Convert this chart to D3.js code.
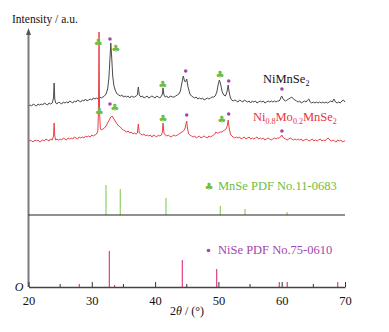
<!DOCTYPE html>
<html>
<head>
<meta charset="utf-8">
<script src="https://cdn.jsdelivr.net/npm/d3@7"></script>
<style>
  body { margin: 0; background: #fff; }
</style>
</head>
<body>
<svg id="chart" width="389" height="332" style="font-family: 'Liberation Serif', 'Times New Roman', 'DejaVu Serif', serif;"></svg>
<script>
// 2theta ticks
const majorTicks = [20, 30, 40, 50, 60, 70];
const minorTicks = [25, 35, 45, 55, 65];

// stacking offsets (a.u.)
const offsetNiMnSe = 181;
const offsetNiMo = 145;
const offsetMnSe = 72;
const offsetNiSe = 0;

// NiMnSe2 pattern [2theta, intensity]
const niMnSe = [
  [20.0,0],[20.25,1],[20.5,0],[20.75,2],[21.0,1],[21.25,0],[21.5,2],[21.75,1],[22.0,2],[22.25,1],
  [22.5,3],[22.75,2],[23.0,1],[23.25,3],[23.5,2],[23.75,3],[23.95,8],[24.05,23],[24.15,7],[24.3,3],
  [24.5,2],[24.75,4],[25.0,3],[25.25,2],[25.5,4],[25.75,3],[26.0,4],[26.25,3],[26.5,5],[26.75,4],
  [27.0,3],[27.25,5],[27.5,4],[27.75,6],[28.0,5],[28.25,4],[28.5,6],[28.75,5],[29.0,7],[29.25,5],
  [29.5,6],[29.75,7],[30.0,6],[30.25,8],[30.5,7],[30.75,8],[31.0,7],[31.25,9],[31.5,8],[31.75,9],
  [32.0,10],[32.25,12],[32.5,17],[32.7,28],[32.85,45],[33.0,63],[33.15,48],[33.3,30],[33.5,20],[33.75,15],
  [34.0,12],[34.25,11],[34.5,10],[34.75,11],[35.0,9],[35.25,10],[35.5,9],[35.75,10],[36.0,8],[36.25,10],
  [36.5,9],[36.75,9],[37.0,10],[37.2,11],[37.35,19],[37.5,11],[37.75,9],[38.0,10],[38.25,8],[38.5,9],
  [38.75,10],[39.0,8],[39.25,9],[39.5,10],[39.75,9],[40.0,8],[40.25,10],[40.5,9],[40.75,8],[41.0,10],
  [41.15,12],[41.25,18],[41.4,11],[41.6,9],[41.85,10],[42.1,8],[42.4,10],[42.75,9],[43.0,9],[43.25,10],
  [43.5,11],[43.75,12],[44.0,15],[44.2,22],[44.45,30],[44.65,25],[44.8,24],[45.0,27],[45.2,19],[45.5,12],
  [45.75,10],[46.0,9],[46.25,8],[46.5,9],[46.75,7],[47.0,8],[47.25,7],[47.5,8],[47.75,6],[48.0,7],
  [48.25,8],[48.5,7],[48.75,8],[49.0,9],[49.25,9],[49.5,10],[49.75,14],[49.95,21],[50.15,26],[50.35,22],
  [50.6,14],[50.85,11],[51.1,10],[51.35,14],[51.55,21],[51.7,14],[51.9,8],[52.1,6],[52.35,5],[52.6,6],
  [52.85,5],[53.1,4],[53.35,6],[53.6,5],[53.85,4],[54.1,6],[54.35,5],[54.6,4],[54.85,5],[55.1,3],
  [55.35,5],[55.6,4],[55.85,5],[56.1,3],[56.35,4],[56.6,5],[56.85,4],[57.1,5],[57.35,3],[57.6,4],
  [57.85,5],[58.1,4],[58.35,5],[58.6,4],[58.85,5],[59.1,4],[59.35,5],[59.6,5],[59.8,7],[59.9,9],
  [60.0,10],[60.15,8],[60.35,6],[60.6,5],[60.85,6],[61.1,7],[61.35,8],[61.6,9],[61.85,7],[62.1,6],
  [62.35,5],[62.6,4],[62.85,5],[63.1,3],[63.35,4],[63.6,5],[63.85,4],[64.1,6],[64.3,7],[64.5,4],
  [64.75,3],[65.0,4],[65.25,3],[65.5,4],[65.75,3],[66.0,4],[66.25,3],[66.5,4],[66.75,3],[67.0,4],
  [67.25,3],[67.5,4],[67.75,5],[68.0,4],[68.25,7],[68.5,4],[68.75,3],[69.0,4],[69.25,3],[69.5,5],
  [69.75,6],[70.0,4]
];

// Ni0.8Mo0.2MnSe2 pattern [2theta, intensity]
const niMoMnSe = [
  [20.0,0],[20.25,2],[20.5,1],[20.75,0],[21.0,2],[21.25,1],[21.5,2],[21.75,0],[22.0,1],[22.25,2],
  [22.5,1],[22.75,3],[23.0,2],[23.25,1],[23.5,3],[23.75,2],[23.95,6],[24.05,19],[24.15,6],[24.3,2],
  [24.5,3],[24.75,2],[25.0,3],[25.25,2],[25.5,4],[25.75,3],[26.0,2],[26.25,4],[26.5,3],[26.75,4],
  [27.0,3],[27.25,5],[27.5,4],[27.75,3],[28.0,5],[28.25,4],[28.5,5],[28.75,4],[29.0,6],[29.25,5],
  [29.5,6],[29.75,5],[30.0,7],[30.25,6],[30.5,7],[30.75,8],[30.95,11],[31.05,30],[31.14,110],[31.23,30],
  [31.35,13],[31.5,12],[31.75,13],[32.0,14],[32.25,16],[32.5,19],[32.75,22],[33.0,25],[33.2,26],[33.4,24],
  [33.6,22],[33.8,20],[34.0,18],[34.25,16],[34.5,15],[34.75,13],[35.0,12],[35.25,11],[35.5,10],[35.75,11],
  [36.0,9],[36.25,10],[36.5,8],[36.75,9],[37.0,8],[37.2,9],[37.35,18],[37.5,9],[37.75,8],[38.0,7],
  [38.25,8],[38.5,6],[38.75,7],[39.0,6],[39.25,7],[39.5,5],[39.75,7],[40.0,6],[40.25,5],[40.5,7],
  [40.75,6],[41.0,7],[41.15,10],[41.25,19],[41.4,9],[41.6,7],[41.85,6],[42.1,7],[42.4,5],[42.75,6],
  [43.0,7],[43.25,6],[43.5,7],[43.75,8],[44.0,9],[44.25,10],[44.5,11],[44.75,14],[44.9,19],[45.0,21],
  [45.1,14],[45.3,8],[45.5,7],[45.75,6],[46.0,5],[46.25,6],[46.5,4],[46.75,5],[47.0,6],[47.25,4],
  [47.5,5],[47.75,6],[48.0,5],[48.25,4],[48.5,6],[48.75,5],[49.0,6],[49.25,7],[49.45,8],[49.6,10],
  [49.8,9],[50.0,9],[50.25,10],[50.5,10],[50.75,11],[51.0,12],[51.2,13],[51.4,16],[51.55,22],[51.7,14],
  [51.9,8],[52.1,6],[52.35,5],[52.6,4],[52.85,5],[53.1,4],[53.35,5],[53.6,3],[53.85,4],[54.1,5],
  [54.35,3],[54.6,4],[54.85,5],[55.1,3],[55.35,4],[55.6,3],[55.85,4],[56.1,5],[56.35,3],[56.6,4],
  [56.85,3],[57.1,4],[57.35,2],[57.6,3],[57.85,4],[58.1,3],[58.35,2],[58.6,3],[58.85,4],[59.1,3],
  [59.35,4],[59.6,4],[59.8,5],[60.0,7],[60.15,5],[60.35,4],[60.6,3],[60.85,2],[61.1,3],[61.35,4],
  [61.6,3],[61.85,2],[62.1,3],[62.35,2],[62.6,3],[62.85,2],[63.1,3],[63.35,1],[63.6,2],[63.85,3],
  [64.1,2],[64.35,1],[64.6,2],[64.85,3],[65.1,1],[65.35,2],[65.6,1],[65.85,2],[66.1,3],[66.35,1],
  [66.6,2],[66.85,1],[67.1,3],[67.35,4],[67.6,2],[67.85,1],[68.1,2],[68.35,1],[68.6,0],[68.85,2],
  [69.1,1],[69.35,2],[69.6,0],[69.85,1],[70.0,1]
];

// reference cards [2theta, relative intensity]
const mnsePdf = [[32.24,30],[34.5,26],[41.72,17],[50.3,9],[54.2,6],[60.84,3]];
const nisePdf = [[28.03,3],[32.77,36],[33.6,2],[44.3,27],[49.73,18],[59.62,5],[60.88,5],[68.85,5]];

// phase markers [2theta, height above pattern offset]
const clubsNiMnSe = [[31.03,64],[33.78,58],[41.2,22],[50.25,32]];
const dotsNiMnSe = [[32.87,67],[44.83,35],[51.63,25],[60.04,17]];
const clubsNiMo = [[31.18,31],[33.62,35],[41.25,24],[50.52,23]];
const dotsNiMo = [[32.87,38],[44.99,27],[51.63,28],[60.04,11]];

const serif = "'Liberation Serif', 'Times New Roman', 'DejaVu Serif', serif";
const green = "#6dbd44";
const purple = "#a346ad";

const svg = d3.select("#chart");

const x = d3.scaleLinear().domain([20, 70]).range([28.5, 345]);
const y = d3.scaleLinear().domain([0, 258]).range([287, 29]);

const line = off => d3.line()
  .x(d => x(d[0]))
  .y(d => y(d[1] + off));

// card sticks
svg.append("g").selectAll("line")
  .data(mnsePdf).enter().append("line")
  .attr("x1", d => x(d[0])).attr("x2", d => x(d[0]))
  .attr("y1", y(offsetMnSe)).attr("y2", d => y(offsetMnSe + d[1]))
  .attr("stroke", "#8fcf66").attr("stroke-width", 1.2);

svg.append("g").selectAll("line")
  .data(nisePdf).enter().append("line")
  .attr("x1", d => x(d[0])).attr("x2", d => x(d[0]))
  .attr("y1", y(offsetNiSe)).attr("y2", d => y(offsetNiSe + d[1]))
  .attr("stroke", "#e23c8e").attr("stroke-width", 1.2);

// patterns
svg.append("path").datum(niMnSe)
  .attr("d", line(offsetNiMnSe))
  .attr("fill", "none").attr("stroke", "#4a4a4a").attr("stroke-width", 1);

svg.append("path").datum(niMoMnSe)
  .attr("d", line(offsetNiMo))
  .attr("fill", "none").attr("stroke", "#e8434b").attr("stroke-width", 1);

// markers
function clubs(data, off) {
  svg.append("g").selectAll("text")
    .data(data).enter().append("text")
    .attr("x", d => x(d[0])).attr("y", d => y(off + d[1]) + 3.5)
    .attr("text-anchor", "middle")
    .style("font-family", "DejaVu Sans")
    .style("font-size", "10px")
    .attr("fill", green)
    .text("\u2663");
}
function dots(data, off) {
  svg.append("g").selectAll("circle")
    .data(data).enter().append("circle")
    .attr("cx", d => x(d[0])).attr("cy", d => y(off + d[1]))
    .attr("r", 1.8).attr("fill", purple);
}
clubs(clubsNiMnSe, offsetNiMnSe);
dots(dotsNiMnSe, offsetNiMnSe);
clubs(clubsNiMo, offsetNiMo);
dots(dotsNiMo, offsetNiMo);

// axes
svg.append("line")
  .attr("x1", x(20)).attr("x2", x(20))
  .attr("y1", y(0)).attr("y2", 33)
  .attr("stroke", "#7a7a7a").attr("stroke-width", 2);
svg.append("path")
  .attr("d", `M${x(20)},28 L${x(20) - 2.5},35 L${x(20) + 2.5},35 Z`)
  .attr("fill", "#555");

svg.append("line")
  .attr("x1", x(20)).attr("x2", x(70))
  .attr("y1", y(offsetMnSe)).attr("y2", y(offsetMnSe))
  .attr("stroke", "#222").attr("stroke-width", 1.2);

const xAxis = svg.append("g")
  .attr("transform", `translate(0,${y(0)})`)
  .call(d3.axisBottom(x).tickValues(majorTicks).tickSizeInner(-5).tickSizeOuter(0).tickPadding(9));
xAxis.attr("font-family", null);
xAxis.select(".domain").attr("stroke", "#444").attr("stroke-width", 1.6);
xAxis.selectAll(".tick line").attr("stroke", "#333");
xAxis.selectAll(".tick text")
  .style("font-family", serif).style("font-size", "12.5px").attr("fill", "#111");

svg.append("g").selectAll("line")
  .data(minorTicks).enter().append("line")
  .attr("x1", d => x(d)).attr("x2", d => x(d))
  .attr("y1", y(0)).attr("y2", y(0) - 3)
  .attr("stroke", "#333");

// texts
svg.append("text").attr("x", 12).attr("y", 23)
  .style("font-family", serif).style("font-size", "11.5px").attr("fill", "#111")
  .text("Intensity / a.u.");

svg.append("text").attr("x", 23.5).attr("y", 291)
  .attr("text-anchor", "end")
  .style("font-family", serif).style("font-size", "12px").style("font-style", "italic").attr("fill", "#111")
  .text("O");

const xl = svg.append("text").attr("x", 170).attr("y", 315)
  .style("font-family", serif).style("font-size", "12px").attr("fill", "#111");
xl.append("tspan").text("2");
xl.append("tspan").style("font-style", "italic").text("\u03b8");
xl.append("tspan").text(" / (°)");

const t1 = svg.append("text").attr("x", 263).attr("y", 82.5)
  .style("font-family", serif).style("font-size", "12.5px").attr("fill", "#111");
t1.append("tspan").text("NiMnSe");
t1.append("tspan").attr("dy", 3).style("font-size", "8px").text("2");

const t2 = svg.append("text").attr("x", 253).attr("y", 120.5)
  .style("font-family", serif).style("font-size", "12.5px").attr("fill", "#e8333a");
t2.append("tspan").text("Ni");
t2.append("tspan").attr("dy", 3).style("font-size", "8px").text("0.8");
t2.append("tspan").attr("dy", -3).text("Mo");
t2.append("tspan").attr("dy", 3).style("font-size", "8px").text("0.2");
t2.append("tspan").attr("dy", -3).text("MnSe");
t2.append("tspan").attr("dy", 3).style("font-size", "8px").text("2");

svg.append("text").attr("x", 209).attr("y", 190)
  .attr("text-anchor", "middle")
  .style("font-family", "DejaVu Sans").style("font-size", "10px")
  .attr("fill", green).text("\u2663");
svg.append("text").attr("x", 218).attr("y", 190)
  .style("font-family", serif).style("font-size", "12.5px").attr("fill", green)
  .text("MnSe PDF No.11-0683");

svg.append("circle").attr("cx", 208.5).attr("cy", 250.5).attr("r", 1.8).attr("fill", purple);
svg.append("text").attr("x", 218).attr("y", 254)
  .style("font-family", serif).style("font-size", "12.5px").attr("fill", purple)
  .text("NiSe PDF No.75-0610");
</script>
</body>
</html>
